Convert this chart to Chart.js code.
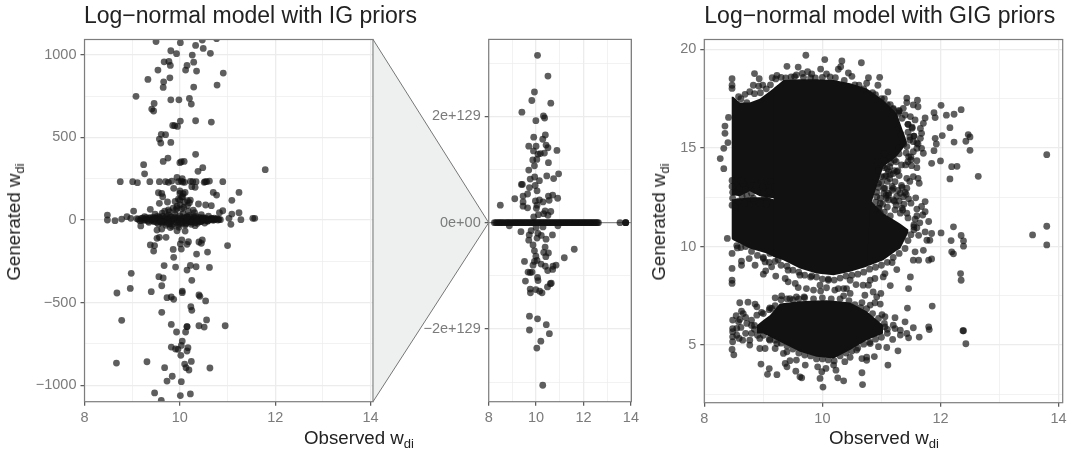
<!DOCTYPE html>
<html>
<head>
<meta charset="utf-8">
<script src="https://cdn.jsdelivr.net/npm/chart.js@4"></script>
<style>
body{margin:0;background:#fff;width:1073px;height:451px;overflow:hidden;position:relative;font-family:"Liberation Sans",Arial,sans-serif}
canvas{position:absolute;top:0}
.eje{position:absolute;font-size:18.7px;color:#222;white-space:nowrap;line-height:20px}
.eje sub{font-size:13px;vertical-align:baseline;position:relative;top:4px}
</style>
</head>
<body>
<canvas id="panelIG" width="501" height="451" style="left:0"></canvas>
<canvas id="panelZoom" width="270" height="451" style="left:373px"></canvas>
<canvas id="panelGIG" width="433" height="451" style="left:640px"></canvas>
<div class="eje" style="left:359px;top:428px;transform:translateX(-50%)">Observed w<sub>di</sub></div>
<div class="eje" style="left:884px;top:428px;transform:translateX(-50%)">Observed w<sub>di</sub></div>
<div class="eje" style="left:15px;top:222px;transform:translate(-50%,-50%) rotate(-90deg)">Generated w<sub>di</sub></div>
<div class="eje" style="left:660px;top:222px;transform:translate(-50%,-50%) rotate(-90deg)">Generated w<sub>di</sub></div>
<script>
const titleIG = 'Log\u2212normal model with IG priors';
const titleGIG = 'Log\u2212normal model with GIG priors';

// left panel: y cropped to about +-1100
const igYTicks = [-1000,-750,-500,-250,0,250,500,750,1000];
const igX = [9.50,10.01,10.47,10.77,10.33,10.49,9.81,9.93,10.26,10.64,9.67,9.77,9.80,10.29,10.15,10.12,10.35,9.54,10.91,9.33,9.79,9.66,9.65,10.29,10.78,
  9.08,9.81,9.98,10.20,10.24,9.46,9.41,9.45,10.01,10.33,10.66,9.85,9.89,9.95,9.61,9.70,9.57,9.60,9.81,10.33,9.75,9.65,10.00,10.09,10.03,9.24,10.48,10.38,11.79,9.26,9.94,10.05,
  8.75,9.01,9.11,9.37,9.57,9.70,9.76,9.83,9.97,10.06,10.22,10.27,10.34,10.51,10.56,10.62,10.90,10.03,10.10,10.53,
  9.55,9.62,9.64,10.70,10.77,11.24,11.09,9.57,9.74,10.00,10.11,10.06,10.00,10.25,10.32,9.87,10.22,10.20,10.39,10.54,10.66,9.94,9.38,9.03,11.24,10.90,10.83,11.09,11.57,11.53,11.28,11.03,8.48,8.48,8.64,8.78,8.89,8.97,
  9.18,9.52,9.62,9.94,10.11,9.80,10.32,11.07,9.52,9.57,9.71,10.04,10.01,10.18,10.15,10.40,10.47,10.45,9.38,9.47,9.45,9.86,10.03,11.00,10.35,10.58,9.87,9.67,9.91,10.22,10.34,10.62,10.15,8.98,9.56,9.65,10.25,9.62,8.96,8.68,9.40,10.05,10.05,10.40,10.42,9.73,9.82,9.87,10.54,10.23,10.25,9.62,8.78,10.56,9.82,10.15,10.15,10.40,10.51,10.95,9.93,10.12,10.05,10.03,9.82,9.91,9.96,10.17,10.15,10.02,8.67,9.31,10.24,10.10,10.13,10.19,9.68,10.63,9.84,9.73,10.03,9.47,10.01,10.22,9.61];
const igY = [1081,1074,1090,1098,1057,1039,1025,1007,999,1009,958,960,936,956,936,908,902,908,890,851,861,837,803,805,817,
  749,728,728,736,702,706,672,660,599,601,593,573,571,567,519,517,490,466,470,398,375,355,347,355,353,335,317,295,305,280,258,250,
  232,232,226,232,232,232,228,236,232,230,234,232,232,228,232,236,232,236,228,232,
  165,161,141,167,151,167,119,101,109,161,167,141,121,202,198,192,121,105,97,91,87,71,65,54,44,56,44,36,10,10,2,10,30,0,-4,6,20,10,
  -36,-61,-55,-65,-67,-46,-34,-26,-111,-105,-105,-121,-145,-131,-147,-133,-121,-141,-151,-155,-188,-178,-176,-155,-206,-194,-226,-276,-285,-275,-283,-287,-303,-323,-343,-351,-365,-398,-414,-442,-434,-430,-440,-454,-462,-470,-466,-480,-490,-525,-547,-559,-607,-605,-632,-646,-645,-640,-648,-640,-678,-678,-733,-759,-769,-781,-783,-773,-793,-819,-866,-858,-856,-872,-894,-908,-894,-896,-946,-975,-979,-1047,-1063,-1053,-1092];
// pile of points around zero
const igCoreX = [9.10,9.16,9.22,9.28,9.33,9.38,9.42,9.46,9.50,9.53,9.56,9.59,9.62,9.64,9.67,9.70,9.72,9.75,9.77,9.80,9.82,9.85,9.87,9.90,9.92,9.95,9.97,10.00,10.02,10.05,10.07,10.10,10.12,10.15,10.17,10.20,10.23,10.26,10.29,10.32,10.35,10.38,10.41,10.44,10.47,10.50,10.54,10.58,10.62,10.66,10.70,10.75,10.82,
  9.48,9.55,9.63,9.71,9.78,9.84,9.91,9.98,10.04,10.11,10.18,10.24,10.31,10.37,10.45,10.52,10.60,9.68,9.76,9.86,9.94,10.01,10.08,10.16,10.28,9.90,9.97,10.04,10.10,10.16,10.07,10.00,
  9.13,9.19,9.25,9.31,9.36,9.41,9.45,9.49,9.54,9.58,9.61,9.66,9.69,9.74,9.79,9.83,9.88,9.93,9.96,10.01,10.06,10.09,10.14,10.19,10.22,10.27,10.31,10.34,10.39,10.43,10.46,10.51,10.55,10.59,10.64,10.68,10.73,10.78,10.85,
  9.20,9.30,9.40,9.44,9.51,9.57,9.65,9.73,9.81,9.89,9.99,10.03,10.13,10.21,10.25,10.33,10.42,10.49,10.56,10.67,10.72,10.80,9.26,9.35,9.47,9.60,9.78,10.15,10.36,10.48];
const igCoreY = [8,-4,12,2,-6,14,4,-10,10,22,-8,6,-16,24,0,14,-20,8,30,-6,18,-26,4,34,-14,12,-30,26,2,-18,38,8,-24,20,-4,28,-12,6,20,-16,10,-6,16,-10,8,-2,12,-8,6,10,-2,6,4,
  36,-24,42,-32,50,-38,60,-44,68,-30,52,-26,44,-20,32,-18,24,54,62,72,84,92,76,88,60,112,126,140,108,118,160,176,
  4,10,-2,6,12,0,-4,8,2,12,-6,4,-10,2,8,-4,10,2,-8,6,-10,14,-2,6,-12,2,10,-6,4,10,-4,8,2,-4,4,8,2,8,2,
  -2,14,-2,16,-14,18,-12,20,-12,18,-20,14,-16,16,-12,22,-10,14,-2,2,12,0,20,-14,12,-12,-22,18,-2,4];

// middle panel: units of 1e129
const zoomX = [10.06,10.50,9.93,9.82,10.62,9.40,10.31,10.36,9.99,10.39,9.90,10.28,9.69,10.00,10.42,10.50,10.88,9.89,10.08,10.35,10.18,10.03,9.86,9.93,10.52,9.69,10.95,10.45,9.94,9.75,10.74,10.14,9.38,9.42,9.72,9.96,10.04,9.64,9.45,9.10,10.70,10.52,10.91,10.55,9.97,10.14,10.29,9.45,9.45,9.64,10.04,8.49,10.01,10.38,10.62,10.32,10.50,9.90,10.10,
  9.36,9.79,9.71,10.08,10.22,10.69,9.69,10.04,10.42,9.87,10.38,9.93,10.32,10.52,10.41,9.99,11.61,11.19,9.51,9.93,10.04,9.87,10.21,10.39,10.71,10.84,10.70,10.49,9.66,9.83,9.75,10.06,10.08,9.55,10.64,10.60,10.48,9.75,9.99,9.76,10.15,10.25,9.72,10.06,10.43,9.72,10.56,10.20,10.03,10.28,8.87,10.29,10.92,10.00];
const zoomY = [3.15,2.76,2.46,2.30,2.25,2.08,2.01,1.97,1.92,1.65,1.61,1.57,1.44,1.44,1.46,1.41,1.36,1.35,1.29,1.31,1.30,1.19,1.18,1.07,1.13,0.99,0.92,0.88,0.86,0.82,0.83,0.79,0.72,0.72,0.66,0.70,0.60,0.54,0.50,0.45,0.52,0.50,0.46,0.42,0.41,0.43,0.39,0.39,0.31,0.28,0.33,0.33,0.27,0.22,0.21,0.17,0.14,0.11,0.15,
  -0.17,-0.15,-0.23,-0.20,-0.24,-0.23,-0.33,-0.29,-0.31,-0.42,-0.46,-0.53,-0.56,-0.57,-0.64,-0.63,-0.50,-0.66,-0.73,-0.73,-0.71,-0.80,-0.78,-0.82,-0.82,-0.80,-0.88,-0.90,-0.93,-0.93,-0.94,-1.03,-1.09,-1.10,-1.14,-1.15,-1.21,-1.25,-1.26,-1.32,-1.29,-1.32,-1.76,-1.81,-1.92,-2.02,-2.09,-2.23,-2.36,-3.06,-0.06,-0.08,-0.06,-0.09];
// the line of points sitting at zero
const zoomBandX = [8.24,8.30,8.36,8.42,8.47,8.52,8.58,8.63,8.70,8.76,8.81,8.86,8.92,8.97,9.03,9.08,9.13,9.18,9.23,9.28,9.33,9.38,9.43,9.48,9.53,9.58,9.63,9.68,9.73,9.78,9.83,9.88,9.93,9.98,10.03,10.08,10.13,10.18,10.23,10.28,10.33,10.38,10.43,10.48,10.53,10.58,10.63,10.68,10.73,10.78,10.83,10.88,10.93,10.98,11.03,11.08,11.13,11.18,11.23,11.28,11.33,11.38,11.43,11.48,11.53,11.58,11.63,11.68,11.73,11.78,11.83,11.88,11.93,11.98,12.03,12.08,12.13,12.18,12.23,12.28,12.33,12.38,12.43,12.48,12.53,12.58,12.63,13.54,13.78,13.78,13.78];

// right panel: dots around the solid clouds
const gigX = [9.72,10.04,10.33,10.66,9.40,9.59,9.97,10.31,10.27,8.85,8.93,9.15,9.23,9.56,9.66,9.75,9.82,10.07,10.44,10.50,10.78,10.97,8.47,8.47,8.47,8.83,8.99,8.77,8.69,8.58,8.92,10.94,10.75,11.11,11.43,11.61,11.62,11.54,11.43,11.37,11.29,11.40,11.49,11.57,11.74,11.71,11.66,11.68,11.66,11.54,11.43,11.60,11.71,11.54,11.46,11.68,
  12.01,11.89,11.91,12.10,12.23,12.35,12.16,12.03,11.91,12.47,12.50,11.93,12.23,12.43,11.89,12.50,13.80,11.85,12.00,12.19,12.28,12.16,12.64,8.27,8.33,8.35,8.35,8.33,8.41,8.40,
  11.22,11.34,11.41,11.51,11.60,11.43,11.54,11.62,11.64,11.23,11.12,11.20,11.43,11.40,11.37,11.58,11.46,11.74,11.68,11.74,11.70,11.32,11.43,11.57,11.80,10.92,10.98,11.12,10.98,11.23,
  12.22,12.01,12.35,12.39,12.39,12.18,12.19,12.22,13.56,13.80,13.80,12.34,12.35,11.85,11.74,11.77,11.63,11.82,11.85,11.80,11.71,11.57,11.54,11.63,11.49,11.46,11.15,11.26,11.06,11.03,11.18,10.89,10.81,10.69,10.99,10.86,10.92,10.72,10.67,10.98,10.89,10.81,11.44,11.86,10.78,10.57,10.47,10.36,10.41,10.27,10.21,10.47,10.36,10.07,9.96,9.97,10.10,9.85,9.73,9.69,9.56,9.45,9.31,9.20,9.11,9.54,9.59,9.42,9.37,9.42,9.62,9.82,9.21,9.14,9.04,9.00,8.86,8.63,8.47,8.47,8.47,8.63,8.76,9.00,9.03,9.25,9.11,8.56,8.47,8.39,
  8.60,8.74,8.86,8.89,9.14,8.54,8.63,8.66,8.48,8.48,8.48,8.48,8.48,8.47,8.50,8.59,8.65,8.58,8.72,8.80,8.89,8.97,8.77,8.77,8.94,8.94,9.03,9.20,9.11,9.23,9.34,9.40,8.96,9.10,9.07,9.23,9.37,9.40,9.45,9.56,9.71,9.55,9.62,9.65,9.92,9.99,9.96,10.01,10.06,10.19,10.23,10.26,10.36,10.67,10.68,11.11,10.38,10.47,10.67,10.75,10.88,10.75,10.58,10.81,10.95,11.09,11.28,11.19,11.32,11.46,11.64,11.43,11.54,11.40,11.23,11.06,11.01,11.20,11.23,11.32,11.06,11.80,11.81,12.39,12.38,12.43,
  8.47,8.47,8.48,8.48,8.47,8.55,8.60,8.66,8.72,8.78,8.84,8.90,8.96,9.02,9.08,9.13,8.58,8.64,8.70,8.76,8.83,8.89,8.95,9.01,9.07,9.12,8.53,8.62,8.68,8.80,8.87,8.99,9.05,9.10,
  9.21,9.30,9.38,9.47,9.53,9.68,9.80,9.88,10.00,10.13,10.22,10.37,10.55,10.62,10.70,10.85,10.90,11.05,11.15,11.20,11.30,11.35,11.45,11.52,11.33,11.25,11.55,11.60,11.48,11.38,11.30,11.42,11.50,11.10,11.05,10.95,11.15,11.28,11.34,11.20,11.08];
const gigY = [19.70,19.48,19.41,19.32,19.14,19.10,19.00,19.12,18.99,18.77,18.51,18.56,18.68,18.70,18.78,18.87,18.75,18.75,18.80,18.63,18.56,18.58,18.51,18.18,18.02,18.18,18.19,17.85,17.72,17.60,18.14,18.18,18.28,17.84,17.53,17.42,17.09,17.18,17.30,17.01,16.76,16.67,16.59,16.42,16.52,16.25,15.99,15.74,15.49,15.32,15.07,14.98,14.73,14.81,14.56,14.98,
  17.16,16.79,16.54,16.66,16.71,16.94,16.03,15.63,15.49,15.68,15.56,15.20,15.30,15.34,14.86,14.88,14.66,14.22,14.34,14.05,14.07,13.43,13.56,14.46,13.95,16.11,15.74,14.98,16.55,15.27,
  14.39,14.14,14.14,14.10,14.00,13.46,13.55,13.46,13.21,13.29,12.70,12.36,12.96,12.74,12.53,12.47,12.42,12.28,12.03,11.77,11.60,11.69,11.69,11.39,11.27,12.53,12.20,12.36,11.69,11.86,
  11.00,10.69,10.56,10.29,10.02,10.30,9.73,9.63,10.59,10.08,11.03,8.63,8.29,10.66,10.74,10.32,10.57,10.32,9.37,9.31,9.81,9.73,9.31,9.31,8.46,7.87,8.02,8.83,8.63,8.46,9.19,8.38,8.29,8.04,7.62,7.70,7.45,7.53,7.16,7.08,7.15,7.03,6.88,6.98,8.04,8.07,8.29,7.87,7.87,7.87,7.79,7.62,7.50,7.91,8.04,7.74,8.29,7.79,7.87,7.45,7.45,7.36,7.50,7.40,6.89,8.13,7.92,8.21,8.38,8.80,8.55,8.51,8.50,8.97,8.77,8.60,9.05,9.05,8.89,8.29,8.13,9.26,9.39,9.39,9.22,9.34,9.65,9.93,9.65,10.41,
  7.15,7.18,7.08,6.94,6.86,6.49,6.72,6.60,6.27,5.84,5.68,5.42,5.17,4.78,4.51,5.34,5.25,6.18,6.10,6.27,6.52,6.66,5.25,5.00,5.34,4.83,4.83,4.83,5.25,5.08,4.58,4.66,4.04,3.81,3.52,3.50,4.07,3.90,4.21,4.24,3.99,3.68,3.39,3.34,3.90,3.65,3.31,2.87,3.82,3.99,3.73,3.34,3.19,3.60,3.00,3.99,4.16,4.38,4.32,4.23,4.42,4.39,4.75,5.08,4.92,4.88,4.71,5.29,5.51,5.37,5.41,5.59,5.88,6.18,6.39,6.44,6.55,6.01,5.84,5.76,5.93,5.93,5.79,5.73,5.73,5.07,
  13.35,13.05,12.75,12.45,12.10,13.30,12.95,13.20,12.60,13.10,12.30,12.85,13.25,12.50,13.00,12.65,12.30,12.55,12.90,12.10,12.45,13.15,12.20,12.75,12.35,13.30,12.00,13.35,12.20,12.70,13.10,13.00,12.15,12.80,
  18.50,18.58,18.55,18.60,18.62,18.58,18.56,18.55,18.58,18.60,18.56,18.42,18.20,18.18,18.00,17.80,17.70,17.50,17.20,16.95,16.90,16.50,16.20,16.05,15.70,15.90,15.60,15.25,15.55,15.20,15.00,14.75,14.40,13.95,13.55,13.20,13.65,13.85,13.10,12.95,12.60];
// second pass along the cloud edges
const gigEdgeX = [8.55,8.62,8.70,8.80,8.90,9.00,9.10,9.20,9.30,9.40,9.50,9.60,9.70,9.80,9.90,10.00,10.10,10.20,10.30,10.40,10.50,10.60,10.70,10.80,10.90,11.00,11.10,11.20,11.30,11.40,11.45,11.50,11.55,11.60,11.55,
  11.05,11.15,11.25,11.05,11.12,11.00,11.10,11.18,10.95,11.30,11.35,11.30,11.25,11.10,10.95,11.05,11.15,11.35,11.50,11.60,11.45,11.60,11.65,11.55,11.30,11.50,11.60,11.45,
  11.00,11.10,11.20,11.30,11.45,11.52,11.45,11.55,11.48,11.35,11.62,
  9.00,9.10,9.20,9.30,9.40,9.50,9.60,9.70,9.85,10.00,10.15,10.30,10.45,10.55,10.65,10.75,10.85,10.95,11.05,11.10,11.10,11.00,10.90,10.80,10.70,10.60,10.50,10.40,10.30,10.20,10.10,10.00,9.90,9.80,9.70,9.60,9.50,9.40,9.30,9.20,9.10,9.00,8.90,8.85,8.85,
  8.55,8.62,8.70,8.70,8.60,8.80,8.55,8.80,
  8.62,8.72,8.85,8.95,9.05,9.12,8.55,
  10.95,11.02,11.08,11.16,11.22,11.00,11.06,11.14,11.20,11.28,10.92,10.98,11.04,11.12,11.18,11.26,10.90,10.96,11.02,11.08,11.22,11.32,11.38,11.42,11.36,11.48,11.26,11.14,11.04,10.94];
const gigEdgeY = [10.05,9.95,10.00,9.75,9.55,9.45,9.20,9.25,9.05,9.00,8.80,8.70,8.55,8.45,8.45,8.35,8.35,8.30,8.40,8.50,8.55,8.60,8.70,8.85,8.95,9.05,9.20,9.45,9.65,9.90,10.30,10.60,10.85,10.95,11.10,
  14.70,14.50,14.30,14.00,13.80,13.55,13.30,13.05,13.00,13.60,13.00,12.30,12.10,12.00,11.95,11.75,11.55,11.95,12.20,11.90,11.45,11.55,11.20,11.00,14.70,14.55,14.35,14.30,
  17.50,17.20,17.00,16.85,16.20,16.00,15.80,15.60,15.40,15.50,15.20,
  6.60,6.80,7.00,7.30,7.35,7.30,7.35,7.40,7.35,7.40,7.35,7.35,7.25,7.05,6.90,6.85,6.60,6.35,6.10,5.80,5.60,5.40,5.30,5.15,5.05,4.85,4.70,4.60,4.45,4.20,4.25,4.30,4.30,4.45,4.50,4.60,4.80,4.95,5.10,5.25,5.30,5.50,5.50,5.80,6.00,
  5.50,5.90,5.60,6.40,6.30,5.60,5.85,6.00,
  17.50,17.30,17.75,17.80,18.00,18.20,17.20,
  13.85,14.10,13.60,14.25,13.85,13.25,12.95,13.45,13.70,12.85,12.75,12.45,12.70,12.60,12.85,12.55,12.25,11.95,12.15,12.45,12.30,12.70,12.15,12.65,11.85,13.30,13.80,14.05,12.95,14.30];

// overplotted clouds, solid black in the picture: upper and lower edge of each
const cloudTopX = [9.17,9.34,9.62,9.90,10.19,10.47,10.75,10.81,11.03,11.26,11.43];
const cloudTopUp = [18.02,18.45,18.48,18.48,18.45,18.28,18.02,17.90,17.43,16.76,15.32];
const cloudTopLo = [9.48,9.31,8.89,8.63,8.55,8.72,8.97,12.03,14.05,14.56,15.24];
const cloudRightX = [10.69,10.81,11.03,11.26,11.32,11.46];
const cloudRightUp = [11.50,12.36,11.69,11.27,11.15,10.85];
const cloudRightLo = [8.95,9.05,9.31,9.80,9.90,10.74];
const cloudLeftUpX = [8.46,8.49,8.60,8.77,8.94,9.17,9.25];
const cloudLeftUpUp = [17.60,17.60,17.30,17.30,17.50,18.02,18.20];
const cloudLeftUpLo = [12.60,12.60,12.55,12.80,12.55,12.45,12.40];
const cloudLeftLoX = [8.46,8.49,8.77,9.06,9.17,9.25];
const cloudLeftLoUp = [12.40,12.40,12.50,12.50,12.40,12.40];
const cloudLeftLoLo = [10.40,10.32,9.90,9.65,9.48,9.40];
const cloudLowX = [8.89,9.00,9.11,9.28,9.62,9.90,10.07,10.19,10.47,10.75,11.03];
const cloudLowUp = [6.01,6.27,6.52,7.11,7.23,7.26,7.28,7.25,7.16,6.72,6.01];
const cloudLowLo = [5.59,5.59,5.42,5.17,4.66,4.41,4.36,4.32,4.75,5.25,5.59];

const COLOR_PUNTO = 'rgba(17,17,17,0.68)';
const COLOR_GRID = '#ececec';
const COLOR_TEXTO = '#7b7b7b';
const COLOR_BORDE = '#7d7d7d';

function pares(xs, ys){
    return xs.map(function(x, i){ return {x: x, y: ys[i]}; });
}

function puntos(xs, ys){
    return {data: pares(xs, ys), backgroundColor: COLOR_PUNTO, borderWidth: 0, pointRadius: 3.4};
}

function nube(xs, up, lo){
    const base = {showLine: true, pointRadius: 0, borderWidth: 0, backgroundColor: '#111111', borderColor: '#111111'};
    return [
        Object.assign({data: pares(xs, up), fill: '+1'}, base),
        Object.assign({data: pares(xs, lo), fill: false}, base)
    ];
}

// panel frame like theme_bw
const marco = {
    id: 'marco',
    afterDraw(chart){
        const a = chart.chartArea, c = chart.ctx;
        c.save();
        c.strokeStyle = COLOR_BORDE;
        c.lineWidth = 1.2;
        c.strokeRect(a.left, a.top, a.right - a.left, a.bottom - a.top);
        c.restore();
    }
};

// shaded wedge that links the left panel to the zoomed one
const cuna = {
    id: 'cuna',
    beforeDraw(chart){
        const a = chart.chartArea, c = chart.ctx;
        const y0 = chart.scales.y.getPixelForValue(0);
        c.save();
        c.beginPath();
        c.moveTo(0, a.top);
        c.lineTo(a.left, y0);
        c.lineTo(0, a.bottom);
        c.closePath();
        c.fillStyle = '#eef0f0';
        c.fill();
        c.strokeStyle = '#767676';
        c.lineWidth = 1;
        c.stroke();
        c.restore();
    },
    beforeDatasetsDraw(chart){
        const a = chart.chartArea, c = chart.ctx;
        const y0 = chart.scales.y.getPixelForValue(0);
        c.save();
        c.strokeStyle = '#767676';
        c.lineWidth = 1;
        c.beginPath();
        c.moveTo(a.left, y0);
        c.lineTo(a.right, y0);
        c.stroke();
        c.restore();
    }
};

function eje(cfg){
    return {
        type: 'linear',
        min: cfg.min,
        max: cfg.max,
        border: {display: false},
        afterFit: cfg.afterFit,
        afterBuildTicks: cfg.afterBuildTicks,
        ticks: {
            stepSize: cfg.step,
            includeBounds: false,
            autoSkip: false,
            maxRotation: 0,
            color: COLOR_TEXTO,
            padding: 4,
            font: {family: '"Liberation Sans"', size: 14.5},
            callback: cfg.label
        },
        grid: {
            color: COLOR_GRID,
            drawTicks: true,
            tickLength: 4,
            tickWidth: 1.2,
            tickColor: function(ctx){ return cfg.mayor(ctx.tick.value) ? '#555555' : 'rgba(0,0,0,0)'; },
            lineWidth: function(ctx){ return cfg.mayor(ctx.tick.value) ? 1.3 : 0.7; }
        }
    };
}

const par = function(v){ return v % 2 === 0; };
const ejeX = function(max, alto, margenDer){
    return eje({min: 8, max: max, step: 1, mayor: par,
        label: function(v){ return par(v) ? String(v) : ''; },
        afterFit: function(s){
            s.height = alto;
            if(margenDer) s.paddingRight = margenDer;
        }});
};

new Chart(document.getElementById('panelIG'), {
    type: 'scatter',
    data: {datasets: [puntos(igX, igY), puntos(igCoreX, igCoreY)]},
    options: {
        responsive: false, animation: false,
        plugins: {
            legend: {display: false}, tooltip: {enabled: false},
            title: {display: true, text: titleIG, align: 'center', color: '#222222',
                font: {family: '"Liberation Sans"', size: 23, weight: 'normal'}, padding: {top: 3, bottom: 8.9}}
        },
        scales: {
            // the title is wider than the panel, the canvas runs on past it
            x: ejeX(14.05, 49.3, 128),
            y: eje({min: -1100, max: 1093, step: 250,
                afterBuildTicks: function(s){ s.ticks = igYTicks.map(function(v){ return {value: v}; }); },
                mayor: function(v){ return v % 500 === 0; },
                label: function(v){ return v % 500 === 0 ? String(v).replace('-', '\u2212') : ''; },
                afterFit: function(s){ s.width = 84.5; }})
        }
    },
    plugins: [marco]
});

new Chart(document.getElementById('panelZoom'), {
    type: 'scatter',
    data: {datasets: [puntos(zoomX, zoomY), puntos(zoomBandX, zoomBandX.map(function(){ return 0; }))]},
    options: {
        responsive: false, animation: false,
        layout: {padding: {top: 39.4, right: 10.7}},
        plugins: {legend: {display: false}, tooltip: {enabled: false}},
        scales: {
            x: ejeX(14.02, 49.3),
            y: eje({min: -3.37, max: 3.45, step: 1, mayor: par,
                label: function(v){
                    if(!par(v)) return '';
                    if(v === 0) return '0e+00';
                    return (v < 0 ? '\u2212' : '') + Math.abs(v) + 'e+129';
                },
                afterFit: function(s){ s.width = 115.7; }})
        }
    },
    plugins: [cuna, marco]
});

new Chart(document.getElementById('panelGIG'), {
    type: 'scatter',
    data: {datasets: [puntos(gigX, gigY), puntos(gigEdgeX, gigEdgeY)]
        .concat(nube(cloudTopX, cloudTopUp, cloudTopLo))
        .concat(nube(cloudRightX, cloudRightUp, cloudRightLo))
        .concat(nube(cloudLeftUpX, cloudLeftUpUp, cloudLeftUpLo))
        .concat(nube(cloudLeftLoX, cloudLeftLoUp, cloudLeftLoLo))
        .concat(nube(cloudLowX, cloudLowUp, cloudLowLo))},
    options: {
        responsive: false, animation: false,
        layout: {padding: {right: 10.3}},
        plugins: {
            legend: {display: false}, tooltip: {enabled: false},
            title: {display: true, text: titleGIG, align: 'start', fullSize: false, color: '#222222',
                font: {family: '"Liberation Sans"', size: 23, weight: 'normal'}, padding: {top: 3, bottom: 8.9}}
        },
        scales: {
            x: ejeX(14.07, 48.3),
            y: eje({min: 2.08, max: 20.5, step: 2.5,
                mayor: function(v){ return v % 5 === 0; },
                label: function(v){ return v % 5 === 0 ? String(v) : ''; },
                afterFit: function(s){ s.width = 64.3; }})
        }
    },
    plugins: [marco]
});
</script>
</body>
</html>
